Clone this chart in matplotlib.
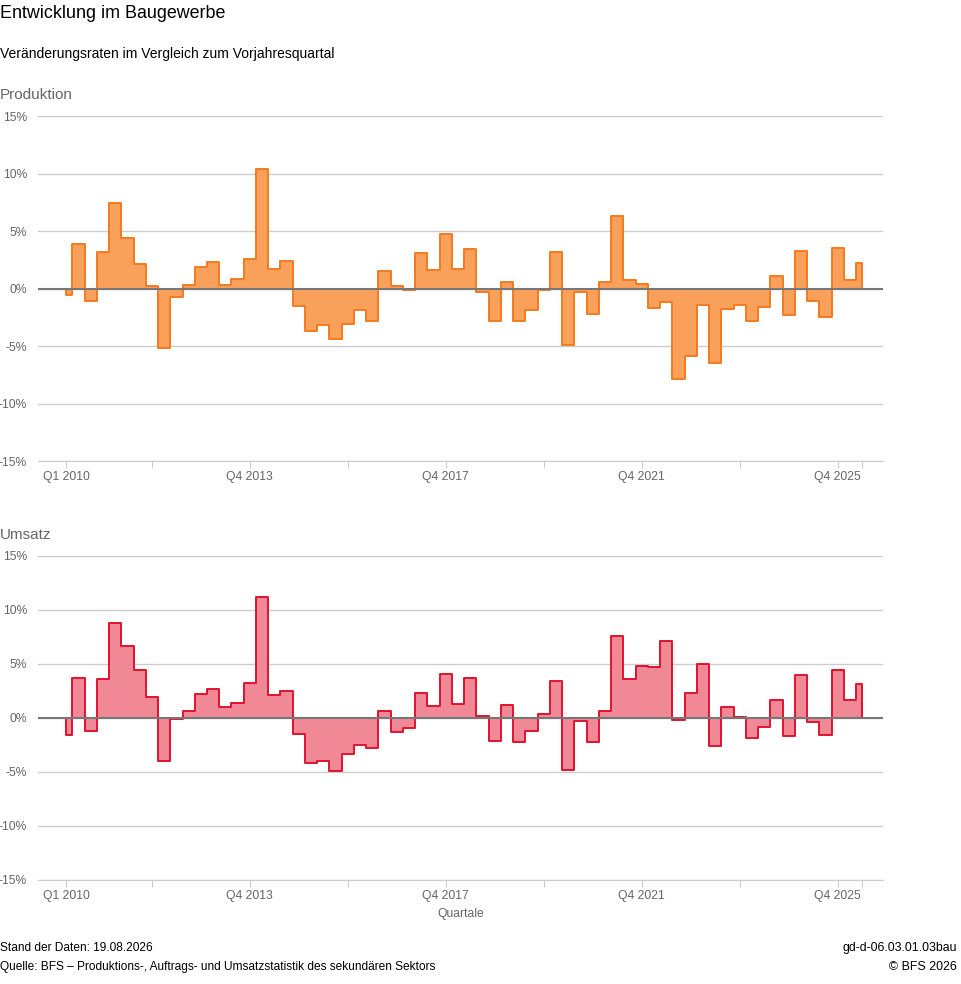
import matplotlib
matplotlib.use("Agg")
import matplotlib.pyplot as plt
import numpy as np

plt.rcParams['font.family'] = ['Liberation Sans', 'DejaVu Sans']

# Quartale Q1 2010 .. Q2 2026
quartale = [f"Q{q} {j}" for j in range(2010, 2027) for q in range(1, 5)][:66]

# Veränderung zum Vorjahresquartal in %
produktion = [
    -0.6, 3.9, -1.1, 3.2, 7.4, 4.4, 2.1, 0.2, -5.2, -0.7,
    0.3, 1.9, 2.3, 0.3, 0.8, 2.6, 10.4, 1.7, 2.4, -1.5,
    -3.7, -3.2, -4.4, -3.1, -1.9, -2.8, 1.5, 0.2, -0.1, 3.1,
    1.6, 4.7, 1.7, 3.4, -0.3, -2.8, 0.6, -2.8, -1.9, -0.1,
    3.2, -4.9, -0.3, -2.2, 0.6, 6.3, 0.7, 0.4, -1.7, -1.2,
    -7.9, -5.9, -1.4, -6.5, -1.8, -1.4, -2.8, -1.6, 1.1, -2.3,
    3.3, -1.1, -2.5, 3.5, 0.7, 2.2,
]
umsatz = [
    -1.6, 3.7, -1.2, 3.6, 8.8, 6.7, 4.4, 1.9, -4.0, -0.1,
    0.6, 2.2, 2.7, 1.0, 1.4, 3.2, 11.2, 2.1, 2.5, -1.5,
    -4.2, -4.0, -4.9, -3.3, -2.5, -2.8, 0.6, -1.3, -0.9, 2.3,
    1.1, 4.1, 1.3, 3.7, 0.2, -2.1, 1.2, -2.2, -1.2, 0.4,
    3.4, -4.8, -0.3, -2.2, 0.6, 7.6, 3.6, 4.8, 4.7, 7.1,
    -0.2, 2.3, 5.0, -2.6, 1.0, 0.1, -1.9, -0.8, 1.7, -1.7,
    4.0, -0.4, -1.6, 4.4, 1.7, 3.1,
]

tick_quartale = ["Q1 2010", "Q4 2011", "Q4 2013", "Q4 2015", "Q4 2017",
                 "Q4 2019", "Q4 2021", "Q4 2023", "Q4 2025", "Q2 2026"]
label_quartale = ["Q1 2010", "Q4 2013", "Q4 2017", "Q4 2021", "Q4 2025"]

yticks = [-15, -10, -5, 0, 5, 10, 15]

fig = plt.figure(figsize=(9.62, 9.84), dpi=100)

grau = '#666666'


def panel(rect, werte, fill, linie, titel, titel_y, xlabel=False):
    ax = fig.add_axes(rect)
    x = np.arange(len(werte))
    ax.fill_between(x, werte, 0, step='mid', facecolor=fill,
                    edgecolor=linie, linewidth=1.4, zorder=3)
    ax.axhline(0, color='#777777', linewidth=1.5, zorder=4)
    ax.set_ylim(-15, 15)
    ax.set_xlim(-2.3, 66.7)
    ax.set_yticks(yticks)
    ax.set_yticklabels([f"{v}%" for v in yticks])
    ax.grid(axis='y', color='#cccccc', linewidth=1)
    ax.set_axisbelow(True)
    for s in ['top', 'right', 'left']:
        ax.spines[s].set_visible(False)
    ax.spines['bottom'].set_color('#cccccc')
    pos = [quartale.index(q) for q in tick_quartale]
    labs = [q if q in label_quartale else "" for q in tick_quartale]
    ax.set_xticks(pos)
    ax.set_xticklabels(labs)
    ax.tick_params(axis='x', colors='#cccccc', length=5, labelcolor=grau,
                   labelsize=8.7, pad=2.5)
    ax.tick_params(axis='y', length=0, labelcolor=grau, labelsize=8.7, pad=8)
    fig.text(0.0, titel_y, titel, fontsize=11, color=grau, va='center')
    if xlabel:
        ax.set_xlabel("Quartale", color=grau, fontsize=8.7, labelpad=4)
    return ax


panel([0.0395, 0.5315, 0.8784, 0.3506], produktion, '#f9a05b', '#f47a1f',
      "Produktion", 1 - 95 / 984)
panel([0.0395, 0.1057, 0.8784, 0.3293], umsatz, '#f08895', '#e0132f',
      "Umsatz", 1 - 535 / 984, xlabel=True)

fig.text(0.0, 1 - 14 / 984, "Entwicklung im Baugewerbe", fontsize=12.9,
         va='center')
fig.text(0.0, 1 - 54 / 984, "Veränderungsraten im Vergleich zum Vorjahresquartal",
         fontsize=10, va='center')
fig.text(0.0, 1 - 948 / 984, "Stand der Daten: 19.08.2026", fontsize=8.6,
         va='center')
fig.text(0.0, 1 - 967 / 984,
         "Quelle: BFS – Produktions-, Auftrags- und Umsatzstatistik des sekundären Sektors",
         fontsize=8.6, va='center')
fig.text(957 / 962, 1 - 948 / 984, "gd-d-06.03.01.03bau", fontsize=8.9,
         va='center', ha='right')
fig.text(957 / 962, 1 - 967 / 984, "© BFS 2026", fontsize=8.9,
         va='center', ha='right')

fig.savefig("out.png", dpi=100)
